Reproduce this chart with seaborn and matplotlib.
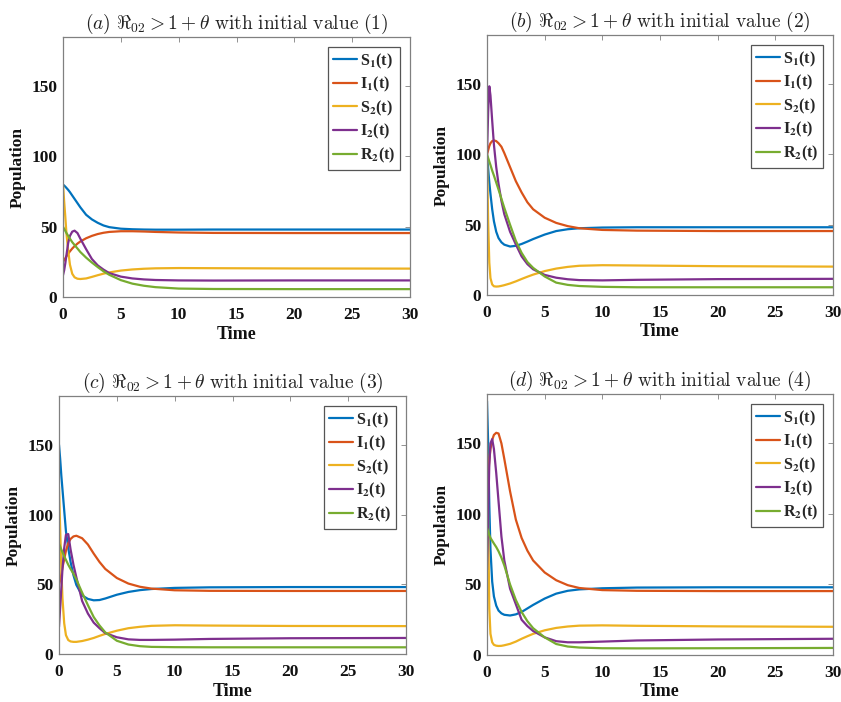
import numpy as np
import pandas as pd
import matplotlib
matplotlib.use("Agg")
import matplotlib.pyplot as plt
import seaborn as sns
from matplotlib.font_manager import FontProperties

sns.set_theme(style="white")
plt.rcParams["font.family"] = ["Liberation Serif", "DejaVu Serif"]
plt.rcParams["font.weight"] = "bold"

# ---------------- data ----------------
T = [0, 0.1, 0.2, 0.3, 0.45, 0.6, 0.8, 1.0, 1.25, 1.5, 2, 2.5, 3, 3.5, 4, 5, 6, 7, 8, 10, 13, 20, 30]

series_names = ["S1", "I1", "S2", "I2", "R2"]
legend_labels = [r"S$_\mathbf{1}$(t)", r"I$_\mathbf{1}$(t)", r"S$_\mathbf{2}$(t)",
                 r"I$_\mathbf{2}$(t)", r"R$_\mathbf{2}$(t)"]
colors = ["#0072BD", "#D95319", "#EDB120", "#7E2F8E", "#77AC30"]

# panel (a): initial value (1)
a_S1 = [80, 79.3, 78.5, 77.6, 76.2, 74.6, 72.2, 69.8, 66.8, 63.8, 58.5, 55.2, 52.8, 50.9, 49.7, 48.6, 48.2, 48.0, 47.9, 47.9, 48, 48, 48]
a_I1 = [25, 26.3, 27.6, 29, 30.8, 32.5, 34.5, 36.2, 38, 39.5, 41.8, 43.5, 44.8, 45.7, 46.3, 46.8, 46.8, 46.6, 46.3, 45.9, 45.6, 45.5, 45.5]
a_S2 = [80, 68, 57, 45, 33, 23, 16.5, 14, 13, 12.8, 13.2, 14.3, 15.5, 16.6, 17.5, 18.8, 19.6, 20.1, 20.4, 20.6, 20.5, 20.3, 20.2]
a_I2 = [15.5, 19, 24, 30, 38.5, 43.5, 46.5, 47.2, 45.5, 41.5, 34, 27, 22.5, 19.5, 17, 14.5, 13.2, 12.5, 12.1, 11.8, 11.7, 11.8, 11.8]
a_R2 = [50, 48.5, 47, 45.5, 43.5, 41.5, 39, 37, 34.5, 32, 28, 24.5, 21.3, 18.3, 15.8, 12, 9.5, 8, 7, 6, 5.7, 5.6, 5.6]

# panel (b): initial value (2)
b_S1 = [100, 90, 80, 72, 61, 52.5, 45, 40.5, 37.5, 35.8, 34.5, 35, 36.3, 38, 39.8, 43, 45.5, 46.8, 47.5, 48, 48.2, 48.2, 48.2]
b_I1 = [100, 103, 106, 108, 109.5, 110, 109.5, 108, 105.5, 101, 91, 81, 73, 66, 61, 55, 51.3, 49, 47.5, 46.3, 45.8, 45.5, 45.5]
b_S2 = [100, 52, 23, 12, 7.5, 6.2, 6, 6.1, 6.5, 7, 8.2, 9.7, 11.4, 13, 14.5, 17, 18.8, 20, 20.8, 21.2, 21, 20.5, 20.2]
b_I2 = [100, 130, 148.5, 142, 124, 107, 91, 79, 67, 57.5, 45, 36, 27.5, 22, 18.3, 14.3, 12.3, 11.2, 10.6, 10.4, 10.8, 11.3, 11.5]
b_R2 = [100, 97.5, 95, 92.5, 88.5, 85, 80, 75, 68.5, 62, 50, 38.5, 30, 23.5, 19.3, 13.2, 8.8, 7.2, 6.4, 5.8, 5.5, 5.5, 5.5]

# panel (c): initial value (3)
c_S1 = [150, 140, 128, 118, 103, 88, 76, 66, 56.5, 49.5, 42, 39.5, 38.5, 38.7, 39.8, 42.5, 44.5, 45.8, 46.6, 47.4, 47.8, 48, 48]
c_I1 = [50, 53, 57, 62, 68, 74, 79.5, 82.5, 84.3, 84.8, 83, 78.5, 72, 66, 61, 54.5, 50.5, 48.2, 46.9, 45.7, 45.3, 45.2, 45.2]
c_S2 = [120, 90, 62, 40, 22, 13.5, 10, 9, 8.7, 8.7, 9.3, 10.3, 11.5, 13, 14.4, 16.7, 18.5, 19.5, 20.2, 20.6, 20.4, 20.1, 20]
c_I2 = [19.5, 33, 47, 61, 76, 85.5, 86, 75, 64, 55, 38, 29, 22.5, 18.5, 15, 12, 10.5, 10.1, 10.1, 10.3, 10.8, 11.3, 11.5]
c_R2 = [79, 77, 75, 73, 70, 67.5, 64, 61, 57.5, 53.5, 44, 35, 26.5, 20.5, 15.5, 9.5, 6.8, 5.6, 5.1, 4.9, 4.8, 4.8, 4.8]

# panel (d): initial value (4)
d_S1 = [180, 150, 106, 75, 52, 41.5, 35, 31.5, 29.5, 28.5, 28, 28.8, 30.5, 33, 35.5, 40, 43.5, 45.5, 46.5, 47.3, 47.8, 48, 48]
d_I1 = [111, 125, 138, 146, 152.5, 156, 157.5, 157, 150, 139, 116, 96, 83, 74, 67, 58.5, 53, 49.5, 47.5, 46, 45.5, 45.3, 45.3]
d_S2 = [150, 95, 33, 15, 9, 7.2, 6.6, 6.4, 6.5, 6.9, 7.9, 9.5, 11.5, 13.3, 15, 17.5, 19.2, 20.2, 20.8, 21, 20.7, 20.3, 20]
d_I2 = [60.5, 100, 135, 150, 153, 146, 129, 109, 84, 67, 47, 36, 25, 20.5, 17, 12.5, 9.8, 9, 9, 9.5, 10.3, 11, 11.5]
d_R2 = [90, 87.5, 85, 83, 81, 79, 76.5, 73.5, 69, 63.5, 50, 39, 30.5, 24, 19, 12.5, 7.8, 6, 5.3, 4.8, 4.7, 4.8, 5]

panels = [
    ("a", "1", [a_S1, a_I1, a_S2, a_I2, a_R2]),
    ("b", "2", [b_S1, b_I1, b_S2, b_I2, b_R2]),
    ("c", "3", [c_S1, c_I1, c_S2, c_I2, c_R2]),
    ("d", "4", [d_S1, d_I1, d_S2, d_I2, d_R2]),
]

xticks = [0, 5, 10, 15, 20, 25, 30]
yticks = [0, 50, 100, 150]

# ---------------- layout ----------------
W, H = 841, 702
fig = plt.figure(figsize=(W / 100, H / 100), dpi=100)
# pixel boxes: left, top, right, bottom
boxes = [(63, 37, 410, 297), (487, 35, 833, 295), (59, 396, 406, 654), (487, 394, 833, 655)]

frame_col = "#808080"
leg_fp = FontProperties(family=["Liberation Serif"], weight="bold", size=11.5, math_fontfamily="stix")
title_fp = FontProperties(size=14, math_fontfamily="cm")

for (letter, num, vals), (l, t, r, b) in zip(panels, boxes):
    ax = fig.add_axes([l / W, 1 - b / H, (r - l) / W, (b - t) / H])
    df = pd.DataFrame({
        "t": T * len(series_names),
        "value": np.concatenate(vals),
        "series": np.repeat(series_names, len(T)),
    })
    sns.lineplot(data=df, x="t", y="value", hue="series", hue_order=series_names,
                 palette=colors, linewidth=1.6, estimator=None, sort=True,
                 legend=False, ax=ax)
    ax.set_xlim(0, 30)
    ax.set_ylim(0, 185)
    ax.set_xticks(xticks)
    ax.set_yticks(yticks)
    ax.tick_params(direction="in", top=True, right=True, length=3.5, width=0.6,
                   color=frame_col, labelsize=12.5, labelcolor="#111111")
    ax.tick_params(axis="x", pad=7)
    ax.tick_params(axis="y", pad=4)
    for s in ax.spines.values():
        s.set_color(frame_col)
        s.set_linewidth(0.9)
    ax.set_xlabel("Time", fontsize=13, fontweight="bold", labelpad=2, color="#111111")
    ax.set_ylabel("Population", fontsize=12.5, fontweight="bold", labelpad=4, color="#111111")
    ax.set_title(r"$(%s)\ \Re_{02} > 1 + \theta\ \mathrm{with\ initial\ value\ (%s)}$" % (letter, num),
                 fontproperties=title_fp, pad=6, color="#222222")
    leg = ax.legend(handles=ax.lines[:5], labels=legend_labels, loc="upper right",
                    prop=leg_fp, frameon=True, fancybox=False, framealpha=1,
                    edgecolor="#555555", handlelength=1.5, handletextpad=0.2,
                    labelspacing=0.27, borderpad=0.3, borderaxespad=0.6)
    leg.get_frame().set_linewidth(0.9)

fig.savefig("out.png", dpi=100)
